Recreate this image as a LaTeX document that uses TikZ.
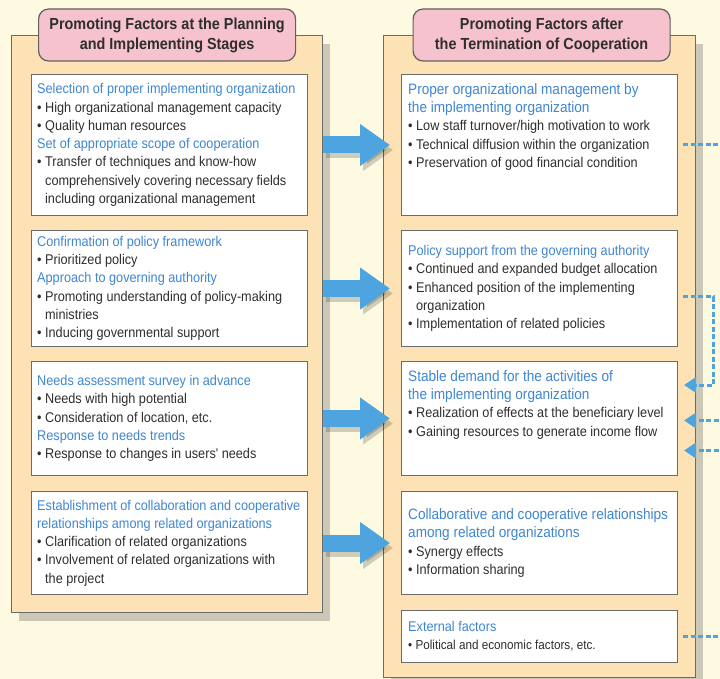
\documentclass[tikz,border=0pt]{standalone}
\usepackage{fontspec}
\newfontfamily\condfont[FakeStretch=0.9]{Liberation Sans}
\usepackage{tikz}
\usetikzlibrary{positioning,arrows.meta,shadows}
\definecolor{paper}{HTML}{FEF9E1}
\definecolor{panelfill}{HTML}{FCE2B4}
\definecolor{pinkhead}{HTML}{F5C2CE}
\definecolor{frame}{HTML}{6B6B6B}
\definecolor{flow}{HTML}{4DA4DE}
\definecolor{headblue}{HTML}{3F86D0}
\definecolor{ink}{HTML}{2E2E2E}
\newcommand\hd[1]{\textcolor{headblue}{#1}}
\newcommand\hdl[1]{\textcolor{headblue}{\fontsize{15.1}{18.3}\selectfont#1}}
\newcommand\itm{\textbullet\ }
\newcommand\ind{\phantom{\textbullet\ }}

\begin{document}
\begin{tikzpicture}[x=1pt,y=-1pt,
    stage/.style={draw=frame,line width=1.2pt,fill=panelfill,anchor=north west,
      drop shadow={shadow xshift=7pt,shadow yshift=-8pt,opacity=0.28,fill=black!70}},
    stagehead/.style={draw=frame!90!black,line width=1.2pt,fill=pinkhead,rounded corners=10pt,
      minimum width=257pt,minimum height=52pt,align=center,text=ink,
      font=\condfont\bfseries\fontsize{16}{20}\selectfont},
    factor/.style={draw=frame,line width=1pt,fill=white,anchor=north west,
      minimum width=276pt,inner sep=0pt},
    txt/.style={inner sep=0pt,align=left,text=ink,
      font=\condfont\fontsize{14.1}{18.3}\selectfont},
    bigarrow/.style={draw=flow,line width=17pt,shorten <=15pt,shorten >=11pt,
      -{Triangle[length=30pt,width=40pt]}},
    arrowshade/.style={bigarrow,draw=black,opacity=0.18,transform canvas={shift={(3pt,-5pt)}}},
    link/.style={draw=flow,line width=3pt,dash pattern=on 5pt off 2.5pt},
    linktip/.style={-{Triangle[length=12pt,width=15pt]},shorten >=6pt}]
  \useasboundingbox (0,0) rectangle (720,679);
  \clip (0,0) rectangle (720,679);
  \fill[paper] (0,0) rectangle (720,679);
  % the two stages
  \node[stage,minimum width=311pt,minimum height=577pt] (lp) at (11,35) {};
  \node[stage,minimum width=312pt,minimum height=642pt] (rp) at (383,35) {};
  \node[stagehead] (lh) at (lp.north) {Promoting Factors at the Planning\\and Implementing Stages};
  \node[stagehead] (rh) at ([xshift=2pt]rp.north) {Promoting Factors after\\the Termination of Cooperation};
  % factor boxes
  \foreach \n/\y/\h in {1/74/141,2/230/116,3/361/114,4/491/103}{
    \node[factor,minimum height=\h pt] (l\n) at (31,\y) {};
    \node[factor,minimum height=\h pt] (r\n) at (401,\y) {};}
  \node[factor,minimum height=52pt] (r5) at (401,610) {};
  % left texts
  \node[txt,anchor=west] (lt1) at ([xshift=6pt]l1.west) {%
    \hd{Selection of proper implementing organization}\\
    \itm High organizational management capacity\\
    \itm Quality human resources\\
    \hd{Set of appropriate scope of cooperation}\\
    \itm Transfer of techniques and know-how\\
    \ind comprehensively covering necessary fields\\
    \ind including organizational management};
  \node[txt,anchor=west] (lt2) at ([xshift=6pt]l2.west) {%
    \hd{Confirmation of policy framework}\\
    \itm Prioritized policy\\
    \hd{Approach to governing authority}\\
    \itm Promoting understanding of policy-making\\
    \ind ministries\\
    \itm Inducing governmental support};
  \node[txt,anchor=west] (lt3) at ([xshift=6pt]l3.west) {%
    \hd{Needs assessment survey in advance}\\
    \itm Needs with high potential\\
    \itm Consideration of location, etc.\\
    \hd{Response to needs trends}\\
    \itm Response to changes in users' needs};
  \node[txt,anchor=west] (lt4) at ([xshift=6pt]l4.west) {%
    \hd{Establishment of collaboration and cooperative}\\
    \hd{relationships among related organizations}\\
    \itm Clarification of related organizations\\
    \itm Involvement of related organizations with\\
    \ind the project};
  % right texts
  \node[txt,anchor=north west] (rt1) at ([shift={(7,9)}]r1.north west) {%
    \hdl{Proper organizational management by}\\
    \hdl{the implementing organization}\\
    \itm Low staff turnover/high motivation to work\\
    \itm Technical diffusion within the organization\\
    \itm Preservation of good financial condition};
  \node[txt,anchor=west] (rt2) at ([xshift=7pt]r2.west) {%
    \hd{Policy support from the governing authority}\\
    \itm Continued and expanded budget allocation\\
    \itm Enhanced position of the implementing\\
    \ind organization\\
    \itm Implementation of related policies};
  \node[txt,anchor=north west] (rt3) at ([shift={(7,9)}]r3.north west) {%
    \hdl{Stable demand for the activities of}\\
    \hdl{the implementing organization}\\
    \itm Realization of effects at the beneficiary level\\
    \itm Gaining resources to generate income flow};
  \node[txt,anchor=west] (rt4) at ([xshift=7pt]r4.west) {%
    \hdl{Collaborative and cooperative relationships}\\
    \hdl{among related organizations}\\
    \itm Synergy effects\\
    \itm Information sharing};
  \node[txt,anchor=west] (rt5) at ([xshift=7pt]r5.west) {%
    \hd{External factors}\\
    {\fontsize{13}{18.3}\selectfont\itm Political and economic factors, etc.}};
  % flows between the stages
  \foreach \n in {1,...,4}{
    \draw[arrowshade] (l\n.east) -- (r\n.west);
    \draw[bigarrow] (l\n.east) -- (r\n.west);}
  % dashed links at the right edge
  \coordinate (edge) at (726,0);
  \coordinate (in1) at ([yshift=-2pt]r3.east);
  \coordinate (in2) at ([yshift=-32pt]r3.east);
  \draw[link,shorten <=5pt] (r1.east) -- (r1.east -| edge);
  \draw[link,linktip,shorten <=5pt] ([yshift=-8pt]r2.east) -- ++(35,0)
    |- ([yshift=-24pt]r3.north east);
  \draw[link,linktip] (in1 -| edge) -- (in1);
  \draw[link,linktip] (in2 -| edge) -- (in2);
  \draw[link,shorten <=5pt] (r5.east) -- (r5.east -| edge);
\end{tikzpicture}
\end{document}
